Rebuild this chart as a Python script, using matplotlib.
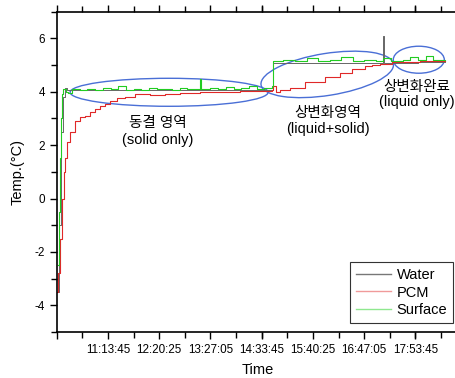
import matplotlib
matplotlib.use('Agg')
import matplotlib.pyplot as plt
import matplotlib.transforms as mtransforms
from matplotlib.patches import Ellipse
from matplotlib.ticker import FixedLocator, MultipleLocator

plt.rcParams['font.family'] = ['Liberation Sans', 'Noto Sans CJK KR']
plt.rcParams['axes.unicode_minus'] = False

# time in minutes after 10:07:05
water_t = [1.0, 3.0, 5.6, 8.2, 10.8, 13.4, 60, 120, 180, 240, 281.0,
           282.0, 330, 380, 424.0, 425.0, 426.0, 470, 505.6]
water_v = [-3.5, -1.0, 2.5, 3.8, 4.15, 4.05, 4.05, 4.06, 4.05, 4.06, 4.05,
           5.08, 5.08, 5.08, 5.08, 6.1, 5.08, 5.1, 5.1]

pcm_t = [1.0, 2.3, 4.3, 6.9, 9.5, 10.8, 13.4, 17.3, 23.8, 30.3, 36.8, 43.4,
         49.9, 56.4, 62.9, 69.4, 78.5, 88.9, 101.9, 121.5, 141.0, 160.6,
         186.6, 212.7, 238.7, 264.7, 280.4, 281.7, 285.5, 290.8, 303.8,
         323.3, 349.4, 368.9, 384.5, 401.4, 410.6, 421.0, 436.6, 447.0,
         473.0, 505.6]
pcm_v = [-3.5, -2.8, -1.5, 0.0, 1.0, 1.5, 2.1, 2.5, 2.9, 3.05, 3.1, 3.25,
         3.35, 3.45, 3.55, 3.65, 3.75, 3.82, 3.9, 3.88, 3.92, 3.95, 3.98,
         4.0, 4.02, 4.03, 4.05, 4.2, 4.0, 4.05, 4.15, 4.35, 4.55, 4.7, 4.85,
         4.95, 5.02, 5.05, 5.12, 5.12, 5.15, 5.15]

surf_t = [1.7, 3.0, 4.3, 5.6, 6.9, 8.2, 12.1, 14.7, 19.9, 30, 40, 50, 60, 70,
          80, 90, 100, 110, 120, 130, 140, 150, 160, 170, 180, 186, 188, 200,
          210, 220, 230, 240, 250, 260, 270, 280.5, 281.7, 295, 310, 325, 340,
          355, 370, 385, 400, 415, 425, 435, 450, 460, 470, 480, 490, 505.6]
surf_v = [-2.5, -0.5, 1.5, 3.0, 3.9, 4.1, 4.0, 3.94, 4.1, 4.05, 4.12, 4.08,
          4.15, 4.1, 4.2, 4.08, 4.12, 4.05, 4.15, 4.1, 4.12, 4.08, 4.15, 4.1,
          4.12, 4.47, 4.1, 4.15, 4.1, 4.18, 4.12, 4.15, 4.2, 4.12, 4.15, 4.2,
          5.15, 5.2, 5.15, 5.25, 5.15, 5.2, 5.3, 5.15, 5.2, 5.15, 5.25, 5.15,
          5.2, 5.3, 5.2, 5.35, 5.2, 5.2]

tick_pos = [0, 66.67, 133.33, 200, 266.67, 333.33, 400, 466.67]
tick_labels = ['', '11:13:45', '12:20:25', '13:27:05', '14:33:45',
               '15:40:25', '16:47:05', '17:53:45']

fig = plt.figure(figsize=(4.55, 3.78), dpi=100)
ax = fig.add_axes([0.1246, 0.1217, 0.882, 0.8474])

ax.plot(water_t, water_v, color='#666666', lw=0.7, drawstyle='steps-post', label='Water')
ax.plot(pcm_t, pcm_v, color='#e02828', lw=0.8, drawstyle='steps-post', label='PCM')
ax.plot(surf_t, surf_v, color='#22cc22', lw=0.8, drawstyle='steps-post', label='Surface')

ax.set_xlim(0, 522)
ax.set_ylim(-5, 7)
ax.xaxis.set_major_locator(FixedLocator(tick_pos))
ax.set_xticklabels(tick_labels)
ax.xaxis.set_minor_locator(MultipleLocator(33.333))
ax.yaxis.set_major_locator(MultipleLocator(2))
ax.yaxis.set_minor_locator(MultipleLocator(1))
ax.tick_params(which='both', direction='out', top=True, right=False, labelsize=8.4)
ax.tick_params(which='major', length=5, width=1)
ax.tick_params(which='minor', length=4, width=1)
ax.spines['right'].set_visible(False)
for s in ['left', 'bottom', 'top']:
    ax.spines[s].set_linewidth(1.2)

ax.set_xlabel('Time', fontsize=10.5, labelpad=5)
ax.set_ylabel('Temp.(\u00b0C)', fontsize=10.5, labelpad=7)

fig.canvas.draw()

# ellipses (sizes in pixels, centre in data)
ellipses = [(146.2, 3.98, 198, 28, 0), (351.9, 4.65, 134, 42, 9), (471.0, 5.2, 51, 27, 0)]
for cx, cy, w, h, ang in ellipses:
    tr = mtransforms.IdentityTransform() + mtransforms.ScaledTranslation(cx, cy, ax.transData)
    ax.add_patch(Ellipse((0, 0), w, h, angle=ang, fill=False, edgecolor='#4a6fd6',
                         lw=1.0, transform=tr, clip_on=False))

ax.text(131, 2.82, '동결 영역', ha='center', va='center', fontsize=10.5)
ax.text(132, 2.19, '(solid only)', ha='center', va='center', fontsize=10.5)
ax.text(353, 3.2, '상변화영역', ha='center', va='center', fontsize=10.5)
ax.text(353, 2.6, '(liquid+solid)', ha='center', va='center', fontsize=10.5)
ax.text(469, 4.17, '상변화완료', ha='center', va='center', fontsize=10.5)
ax.text(469, 3.6, '(liquid only)', ha='center', va='center', fontsize=10.5)

leg = ax.legend(loc='lower right', bbox_to_anchor=(0.9875, 0.028), borderaxespad=0,
                fontsize=10.5, handlelength=2.4, handletextpad=0.4, labelspacing=0.25,
                fancybox=False, framealpha=1, edgecolor='#333333')
leg.get_frame().set_linewidth(0.8)
for line, c in zip(leg.get_lines(), ['#777777', '#f09a9a', '#8fe88f']):
    line.set_color(c)
    line.set_linewidth(1.0)

fig.savefig('out.png', dpi=100)
